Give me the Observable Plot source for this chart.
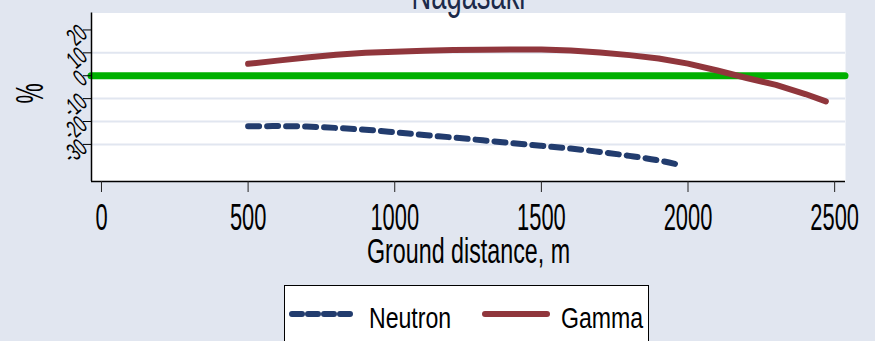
<!DOCTYPE html>
<html><head><meta charset="utf-8">
<script src="https://cdn.jsdelivr.net/npm/d3@7"></script>
<script src="https://cdn.jsdelivr.net/npm/@observablehq/plot@0.6"></script>
<style>
html,body{margin:0;padding:0;background:#E1E6F0;overflow:hidden}
#wrap{position:relative;width:875px;height:341px;overflow:hidden;background:#E1E6F0;font-family:"Liberation Sans",Arial,sans-serif}
#legend{position:absolute;left:284px;top:285px;width:365px;height:80px;background:#fff;border:1px solid #000;box-sizing:border-box}
#legend svg{position:absolute;left:0;top:0}
</style></head>
<body><div id="wrap"><div id="chart"></div><div id="legend"></div></div>
<script>
// ---- data ----
const chartTitle = "Nagasaki";
const xTitle = "Ground distance, m";
const yTitle = "%";
const xTicks = [0, 500, 1000, 1500, 2000, 2500];
const yTicks = [-30, -20, -10, 0, 10, 20];
const yGrid = [-30, -20, -10, 10];
const xDomain = [-34, 2537];
const yDomain = [-46.2, 27.4];
const seriesNames = ["Neutron", "Gamma"];
const seriesColors = ["#223C6E", "#90363C"];
const refColor = "#00B000";
const refValue = [0];

const gammaDistance = [500, 600, 700, 800, 900, 1000, 1100, 1200, 1300, 1400, 1500, 1600, 1700, 1800, 1900, 2000, 2100, 2200, 2300, 2400, 2470];
const gammaPct = [5.2, 6.6, 8.0, 9.2, 10.0, 10.5, 10.9, 11.2, 11.4, 11.5, 11.5, 11.0, 10.1, 9.0, 7.5, 5.3, 2.3, -1.0, -4.0, -8.0, -11.2];
const neutronDistance = [500, 600, 700, 800, 900, 1000, 1100, 1200, 1300, 1400, 1500, 1600, 1700, 1800, 1900, 1970];
const neutronPct = [-22.1, -22.0, -22.2, -22.8, -23.6, -24.7, -25.9, -27.0, -28.2, -29.4, -30.6, -31.8, -33.3, -35.0, -37.0, -38.9];

const gamma = gammaDistance.map((d, i) => ({distance: d, pct: gammaPct[i]}));
const neutron = neutronDistance.map((d, i) => ({distance: d, pct: neutronPct[i]}));

const plot = Plot.plot({
  width: 875, height: 341,
  marginLeft: 91, marginRight: 30, marginTop: 12.5, marginBottom: 160,
  style: {background: "transparent", fontFamily: "'Liberation Sans', Arial, sans-serif", overflow: "visible", color: "#000"},
  x: {domain: xDomain},
  y: {domain: yDomain},
  marks: [
    Plot.frame({fill: "white"}),
    Plot.ruleY(yGrid, {stroke: "#E1E6F0", strokeWidth: 2}),
    Plot.ruleY(refValue, {stroke: refColor, strokeWidth: 7, strokeLinecap: "round"}),
    Plot.line(neutron, {x: "distance", y: "pct", stroke: seriesColors[0], strokeWidth: 6, strokeDasharray: "11 8", strokeLinecap: "round", strokeLinejoin: "round", curve: "monotone-x"}),
    Plot.line(gamma, {x: "distance", y: "pct", stroke: seriesColors[1], strokeWidth: 6, strokeLinecap: "round", strokeLinejoin: "round"}),
    Plot.ruleX([xDomain[0]], {stroke: "#000", strokeWidth: 1.5}),
    Plot.ruleY([yDomain[0]], {stroke: "#000", strokeWidth: 1.5}),
    Plot.axisX(xTicks, {tickSize: 11, tickPadding: 11, fontSize: 37.7, label: null, stroke: "#222", fill: "#000", tickFormat: d => String(d)}),
    Plot.axisY(yTicks, {tickSize: 8, tickPadding: 0, tickRotate: -40, textAnchor: "end", lineAnchor: "middle", fontSize: 25, label: null, stroke: "#000", fill: "#000", tickFormat: d => String(d)}),
    Plot.text([chartTitle], {frameAnchor: "top", lineAnchor: "bottom", dy: -4, fontSize: 42, fill: "#1C2A4A"}),
    Plot.text([xTitle], {frameAnchor: "bottom", lineAnchor: "bottom", dy: 81, fontSize: 35, fill: "#000"}),
    Plot.text([yTitle], {frameAnchor: "left", rotate: -90, lineAnchor: "middle", dx: -60.5, dy: 6.25, fontSize: 38, fill: "#000"})
  ]
});

// condensed text, as in the reference
const squeezeByGroup = {"x-axis tick label": 0.58, "y-axis tick label": 0.6};
const squeezeByText = {[chartTitle]: 0.65, [xTitle]: 0.665, [yTitle]: 0.6};
plot.querySelectorAll("text").forEach(t => {
  const g = t.closest("g[aria-label]");
  let k = g ? squeezeByGroup[g.getAttribute("aria-label")] : undefined;
  if (!k) k = squeezeByText[t.textContent];
  if (!k) return;
  let tr = t.getAttribute("transform");
  if (!tr) {
    const x = t.getAttribute("x") || 0, y = t.getAttribute("y") || 0;
    tr = `translate(${x},${y})`;
    t.removeAttribute("x"); t.removeAttribute("y");
  }
  t.setAttribute("transform", tr + ` scale(${k},1)`);
});
document.getElementById("chart").appendChild(plot);

// legend
const lg = d3.select("#legend").append("svg").attr("width", 365).attr("height", 80);
const swatchX = [[7, 69], [200, 262]];
const labelX = [84, 276];
seriesNames.forEach((name, i) => {
  lg.append("line").attr("x1", swatchX[i][0]).attr("x2", swatchX[i][1]).attr("y1", 28).attr("y2", 28)
    .attr("stroke", seriesColors[i]).attr("stroke-width", 6).attr("stroke-linecap", "round")
    .attr("stroke-dasharray", i === 0 ? "10 6" : null);
  lg.append("text").attr("transform", `translate(${labelX[i]},42) scale(0.77,1)`)
    .attr("font-family", "'Liberation Sans', Arial, sans-serif").attr("font-size", 30).attr("fill", "#000").text(name);
});
</script>
</body></html>
